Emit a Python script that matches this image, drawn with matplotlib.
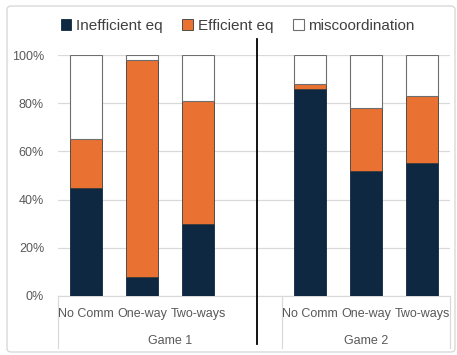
import matplotlib.pyplot as plt
from matplotlib.patches import FancyBboxPatch
from matplotlib.lines import Line2D

plt.rcParams['font.family'] = ['Liberation Sans', 'DejaVu Sans']

# shares (%) per treatment, Game 1 then Game 2
treatments = ["No Comm", "One-way", "Two-ways"]
games = ["Game 1", "Game 2"]
inefficient = [45, 8, 30, 86, 52, 55]
efficient = [20, 90, 51, 2, 26, 28]
miscoord = [35, 2, 19, 12, 22, 17]

navy = "#0E2841"
orange = "#E97132"
grid = "#D9D9D9"
txt = "#595959"

fig = plt.figure(figsize=(4.57, 3.55), dpi=100)
ax = fig.add_axes([58 / 457, 59 / 355, 392 / 457, 241 / 355])

# slot 3 is left empty between the two games
xpos = [0, 1, 2, 4, 5, 6]
w = 0.57
bottom2 = [a + b for a, b in zip(inefficient, efficient)]
ax.bar(xpos, inefficient, w, color=navy, edgecolor=navy, lw=0.6, zorder=3,
       label="Inefficient eq")
ax.bar(xpos, efficient, w, bottom=inefficient, color=orange, edgecolor="#3a3a3a",
       lw=0.6, zorder=3, label="Efficient eq")
ax.bar(xpos, miscoord, w, bottom=bottom2, color="white", edgecolor="#6e6e6e",
       lw=0.8, zorder=3, label="miscoordination")

ax.set_xlim(-0.5, 6.5)
ax.set_ylim(0, 100)
ax.set_yticks(range(0, 101, 20))
ax.set_yticklabels([f"{v}%" for v in range(0, 101, 20)], color=txt, fontsize=9)
ax.tick_params(axis="y", length=0, pad=10)
ax.set_xticks([])
ax.grid(axis="y", color=grid, lw=0.9, zorder=0)
for s in ["top", "right", "left"]:
    ax.spines[s].set_visible(False)
ax.spines["bottom"].set_color(grid)

# category and group labels under the axis
for x, lab in zip(xpos, treatments * 2):
    ax.text(x, -7.5, lab, ha="center", va="center", color=txt, fontsize=9,
            clip_on=False)
for cx, g in zip([1.5, 5], games):
    ax.text(cx, -18.5, g, ha="center", va="center", color=txt, fontsize=9,
            clip_on=False)
for x in [-0.5, 3.5, 6.5]:
    ax.plot([x, x], [0, -21.5], color=grid, lw=0.9, clip_on=False)

# black divider between games
fig.add_artist(Line2D([256.7 / 457] * 2, [1 - 39 / 355, 1 - 344 / 355],
                      color="black", lw=1.3))

leg = fig.legend(loc="center", bbox_to_anchor=(0.52, 1 - 26 / 355), ncol=3,
                 frameon=False, fontsize=11, handlelength=0.7, handleheight=0.7,
                 handletextpad=0.3, columnspacing=1.3)
for t in leg.get_texts():
    t.set_color("#404040")

# outer chart border
fig.add_artist(FancyBboxPatch((7 / 457, 3 / 355), 448 / 457, 346 / 355,
                              boxstyle="round,pad=0,rounding_size=0.01",
                              fill=False, edgecolor="#D9D9D9", lw=1,
                              transform=fig.transFigure))

fig.savefig("out.png", dpi=100)
